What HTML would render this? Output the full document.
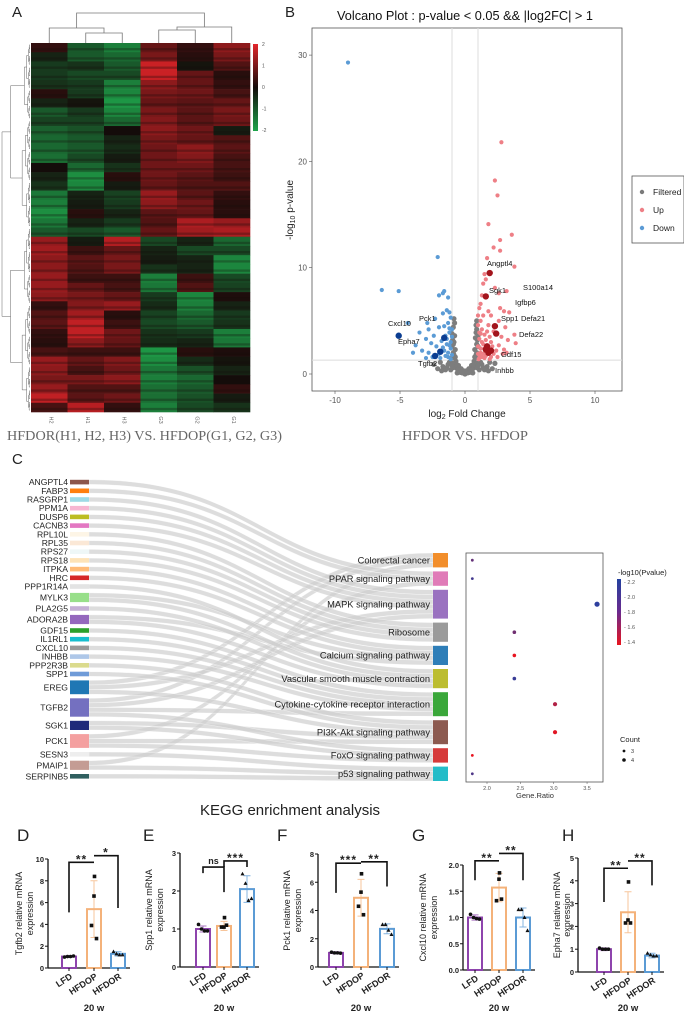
<!DOCTYPE html>
<html><head><meta charset="utf-8"><style>
html,body{margin:0;padding:0;background:#fff}
svg{display:block;font-family:"Liberation Sans",Arial,sans-serif}
</style></head><body>
<svg id="fig" xmlns="http://www.w3.org/2000/svg" width="684" height="1015" viewBox="0 0 684 1015">
<rect x="0" y="0" width="684" height="1015" fill="#fff"/>
<text x="12" y="17" font-size="15" fill="#222">A</text>
<text x="285" y="17" font-size="15" fill="#222">B</text>
<text x="12" y="464" font-size="15" fill="#222">C</text>
<text x="7" y="440" font-size="14" fill="#666" font-family="Liberation Serif,serif" textLength="275" lengthAdjust="spacingAndGlyphs">HFDOR(H1, H2, H3) VS. HFDOP(G1, G2, G3)</text>
<text x="402" y="440" font-size="14" fill="#666" font-family="Liberation Serif,serif" textLength="126" lengthAdjust="spacingAndGlyphs">HFDOR  VS. HFDOP</text>
<text x="337" y="20" font-size="13" fill="#111" textLength="256" lengthAdjust="spacingAndGlyphs">Volcano Plot : p-value &lt; 0.05 &amp;&amp; |log2FC| &gt; 1</text>
<text x="290" y="815" font-size="15" fill="#222" text-anchor="middle">KEGG enrichment analysis</text>
</svg>
<script>
// ---------- DATA ----------
const hmCols = ['H2','H1','H3','G3','G2','G1'];
const hmRows = [
[0.3,-1,-1.5,0.8,0.3,1.2],[-0.3,-1,-1.2,1,0.2,1],[-0.6,-0.5,-1,1.8,-0.1,0.6],[-0.6,-0.8,-0.8,1.8,0.8,0.2],
[-0.5,-0.6,-1.5,1.2,0.8,0.3],[0.2,-0.6,-1.6,1.0,0.9,0.5],[-0.3,-0.1,-1.8,0.8,0.7,0.8],[-1,-0.6,-1.6,1.0,0.7,1],
[-0.7,-0.7,-1.2,1.1,0.7,0.9],[-1.1,-0.9,0,1.2,0.9,-0.2],[-1.2,-1,-0.3,1,0.8,0.6],[-1.2,-1,-0.4,0.9,1.2,0.7],
[-1.3,-0.8,-0.2,0.9,1.1,0.5],[0,-1.2,-0.5,0.9,0.9,0.5],[-0.3,-1.7,0.2,0.9,0.7,0.4],[-0.5,-1.6,-0.2,0.8,0.6,0.6],
[-1.4,-0.3,-0.7,1.3,0.7,0.3],[-1.5,-0.2,-0.6,1.2,0.9,0.2],[-1.7,0.2,-0.3,0.7,0.8,0.2],[-1.4,-0.3,-0.6,0.6,1.5,1.3],
[-1.0,-0.8,-1.0,0.8,1.4,1.5],[1.3,-0.2,1.6,-0.8,-0.3,-1.2],[1.4,0.4,0.8,-0.3,-0.8,-0.8],[1.2,0.7,1.0,-0.2,-0.3,-1.6],
[1.2,0.6,1.0,-0.5,-0.3,-1.6],[1.3,0.4,0.4,-1.5,0.4,-0.8],[1.3,0.8,0.5,-1.4,0.6,-0.7],[1.2,1.0,0.8,-0.6,-1.6,0.1],
[0.3,1.1,1.3,-0.4,-1.5,-0.3],[0.6,1.4,0.2,-0.7,-1.2,-0.6],[0.7,1.7,0.4,-0.8,-1.0,-0.5],[0.3,1.7,0.9,-0.5,-0.6,-1.5],
[0.2,1.2,0.8,-0.4,-0.3,-1.4],[0.5,0.4,0.4,-1.8,0.2,0.1],[1.3,0.8,1.1,-1.7,-0.4,-0.1],[1.2,0.5,0.9,-1.4,-0.9,-0.3],
[1.0,1.0,1.2,-1.5,-1.2,0.0],[1.3,0.6,0.6,-1.3,-1.0,0.3],[1.7,0.7,0.9,-1.3,-0.9,-0.2],[0.5,1.6,0.3,-1.5,-0.8,-0.5]];

const volUp = [[2.8,21.8],[2.3,18.2],[2.5,16.8],[1.8,14.1],[3.6,13.1],[2.7,12.6],[2.2,11.9],[2.7,11.6],[1.7,10.9],[3.8,10.1],
[1.5,9.4],[1.6,8.9],[1.4,8.5],[2.3,8.1],[3.2,7.8],[2.6,7.6],[1.3,7.4],[1.2,6.6],[1.1,6.2],[2.7,6.2],[3.0,5.9],[3.4,5.8],
[1.4,5.5],[2.0,5.5],[1.2,5.0],[2.6,5.0],[1.8,4.6],[3.1,4.4],[1.3,4.2],[2.2,4.0],[3.8,3.7],[1.5,3.7],[2.8,3.5],[1.1,3.3],
[3.3,3.2],[2.0,3.0],[3.9,2.9],[1.4,2.8],[2.6,2.7],[1.2,2.4],[3.0,2.3],[1.7,2.1],[2.2,1.9],[1.1,1.8],[2.5,1.6],[1.5,1.5],
[1.9,1.4],[3.2,2.0],[1.0,4.6],[1.2,3.8],[1.0,2.6],[1.6,3.2],[2.4,2.2],[1.3,1.6],[1.05,1.4],[2.9,1.9],[1.8,5.9],[1.0,5.5],
[1.1,3.9],[1.3,3.0],[1.5,2.4],[1.7,4.0],[2.1,2.6],[1.9,3.5],[1.2,2.0],[1.0,1.9],[1.4,1.9],[2.0,1.6],[1.6,1.7],[1.1,1.5]];
const volDown = [[-9,29.3],[-2.1,11],[-6.4,7.9],[-5.1,7.8],[-1.6,7.8],[-2.0,7.4],[-1.3,7.2],[-1.7,7.6],[-4.4,4.8],[-2.3,5.2],
[-1.2,5.8],[-1.4,6.0],[-1.7,5.7],[-1.1,5.3],[-2.8,4.2],[-3.5,3.9],[-1.3,4.8],[-2.0,4.4],[-1.6,4.5],[-2.4,3.6],[-3.0,3.3],
[-1.2,3.9],[-3.8,2.7],[-2.6,2.9],[-1.8,3.1],[-2.2,2.6],[-1.4,2.8],[-3.3,2.2],[-2.8,2.0],[-1.6,2.2],[-1.1,2.4],[-2.5,1.6],
[-1.9,1.5],[-1.3,1.6],[-3.0,1.5],[-1.0,3.5],[-1.1,1.4],[-2.0,1.9],[-1.5,3.6],[-1.2,4.3],[-4.0,2.0],[-2.9,4.8],
[-1.1,3.0],[-1.3,2.0],[-1.5,1.7],[-1.0,1.8],[-1.2,2.7],[-1.7,2.5],[-1.0,4.2],[-1.4,3.3]];
const volGray = [[0,0],[-0.2,0.1],[0.2,0.1],[-0.4,0.3],[0.4,0.3],[-0.6,0.5],[0.6,0.5],[-0.8,0.9],[0.8,0.9],[-1,1.5],[1,1.5],
[-0.9,2.0],[0.9,2.0],[-1,2.6],[1,2.6],[-0.95,3.2],[0.95,3.2],[-1,3.8],[1,3.6],[-0.9,4.4],[0.9,4.2],[-0.85,5.2],[0.9,5.0],
[-0.7,1.2],[0.7,1.2],[-0.5,0.8],[0.5,0.8],[-0.3,0.5],[0.3,0.5],[-0.85,1.8],[0.85,1.8],[-0.9,2.8],[0.9,2.8],[-1.3,0.9],
[1.3,0.9],[-1.7,0.7],[1.7,0.7],[-2.1,0.5],[2.1,0.5],[-1.5,0.4],[1.5,0.4],[-1.1,0.4],[1.1,0.4],[-0.6,0.1],[0.6,0.1],
[-2.4,0.9],[2.3,1.0],[-1.9,1.1],[1.9,1.1],[-0.1,0.3],[0.1,0.3],[-0.8,3.6],[0.8,3.4],[-0.75,2.3],[0.75,2.3],[-0.65,0.9],
[0.65,0.9],[-1.2,1.1],[1.2,1.1],[-0.9,0.6],[0.9,0.6],[-0.8,4.8],[0.85,4.6],[-0.45,0.2],[0.45,0.2],
[-0.95,1.0],[0.95,1.0],[-0.75,1.6],[0.75,1.6],[-0.85,3.0],[0.85,3.9],[-0.55,0.4],[0.55,0.4],[-1.4,0.6],[1.4,0.6],
[-1.8,0.3],[1.8,0.3],[-1.0,0.8],[1.0,0.8],[-0.35,0.15],[0.35,0.15]];
const volHiUp = [[1.9,9.5],[1.6,7.3],[2.3,4.5],[2.4,3.8],[1.7,2.6],[2.0,2.2],[1.8,2.0],[1.6,2.3]];
const volHiDown = [[-5.1,3.6],[-1.6,3.4],[-1.9,2.1],[-2.3,1.7]];
const volXTicks = [-10,-5,0,5,10];
const volYTicks = [0,10,20,30];

const genes = ['ANGPTL4','FABP3','RASGRP1','PPM1A','DUSP6','CACNB3','RPL10L','RPL35','RPS27','RPS18','ITPKA','HRC','PPP1R14A','MYLK3','PLA2G5','ADORA2B','GDF15','IL1RL1','CXCL10','INHBB','PPP2R3B','SPP1','EREG','TGFB2','SGK1','PCK1','SESN3','PMAIP1','SERPINB5'];
const geneColors = ['#8c564b','#ff7f0e','#9edae5','#f7b6d2','#bcbd22','#e377c2','#fdf5e6','#fbe8d6','#eef7f7','#fde3b8','#ffbb78','#d62728','#e3e3e3','#98df8a','#c5b0d5','#9467bd','#2ca02c','#17becf','#999999','#aec7e8','#dbdb8d','#6f9bd8','#1f77b4','#7470c0','#1f2a7a','#f4a0a0','#eeeeee','#c49c94','#2f5f5f'];
const pathways = ['Colorectal cancer','PPAR signaling pathway','MAPK signaling pathway','Ribosome','Calcium signaling pathway','Vascular smooth muscle contraction','Cytokine-cytokine receptor interaction','PI3K-Akt signaling pathway','FoxO signaling pathway','p53 signaling pathway'];
const pathwayColors = ['#f28e2b','#e07bb8','#9a72c0','#9b9b9b','#2e7eb8','#bcbd30','#3aa73a','#8c5a50','#d63a3a','#24bcc8'];
const links = [
['EREG',0],['TGFB2',0],['PMAIP1',0],
['ANGPTL4',1],['FABP3',1],['PCK1',1],
['RASGRP1',2],['PPM1A',2],['DUSP6',2],['CACNB3',2],['EREG',2],['TGFB2',2],
['RPL10L',3],['RPL35',3],['RPS27',3],['RPS18',3],
['ITPKA',4],['HRC',4],['MYLK3',4],['ADORA2B',4],
['PPP1R14A',5],['MYLK3',5],['PLA2G5',5],['ADORA2B',5],
['GDF15',6],['IL1RL1',6],['CXCL10',6],['INHBB',6],['TGFB2',6],
['PPP2R3B',7],['SPP1',7],['EREG',7],['SGK1',7],['PCK1',7],
['TGFB2',8],['SGK1',8],['PCK1',8],
['SESN3',9],['PMAIP1',9],['SERPINB5',9]];
const geneRatio = [1.78,1.78,3.65,2.41,2.41,2.41,3.02,3.02,1.78,1.78];
const pathCount = [3,3,6,4,4,4,5,5,3,3];
const pathLogP = [1.95,2.1,2.2,1.9,1.35,2.15,1.6,1.38,1.35,2.05];
const grTicks = [2.0,2.5,3.0,3.5];
const cbTicks = [2.2,2.0,1.8,1.6,1.4];

const groups = ['LFD','HFDOP','HFDOR'];
const tgfb2Mean=[1.05,5.4,1.3], tgfb2Sd=[0.08,2.6,0.2], tgfb2Pts=[[1.0,1.05,1.05,1.1],[8.4,6.6,3.9,2.7],[1.5,1.3,1.2,1.2]];
const spp1Mean=[1.0,1.08,2.05], spp1Sd=[0.08,0.12,0.35], spp1Pts=[[1.12,1.0,0.95,0.95],[1.3,1.05,1.05,1.1],[2.45,2.2,1.75,1.8]];
const pck1Mean=[1.0,4.9,2.7], pck1Sd=[0.08,1.3,0.35], pck1Pts=[[1.05,1.0,1.0,0.98],[6.6,5.3,4.3,3.7],[3.0,3.0,2.6,2.3]];
const cxcl10Mean=[1.0,1.57,1.0], cxcl10Sd=[0.05,0.27,0.18], cxcl10Pts=[[1.06,1.0,0.98,0.97],[1.85,1.73,1.32,1.35],[1.15,1.15,1.0,0.75]];
const epha7Mean=[1.0,2.62,0.72], epha7Sd=[0.06,0.9,0.1], epha7Pts=[[1.05,1.0,1.0,1.0],[3.95,2.28,2.15,2.15],[0.82,0.75,0.7,0.7]];
const tgfb2Ticks=['0','2','4','6','8','10'], spp1Ticks=['0','1','2','3'], pck1Ticks=['0','2','4','6','8'], cxcl10Ticks=['0.0','0.5','1.0','1.5','2.0'], epha7Ticks=['0','1','2','3','4','5'];
const tgfb2Sig=[[0,1,9.7,5.1,9.7,'**'],[1,2,10.3,10.3,5.5,'*']];
const spp1Sig=[[0,1,2.63,2.47,1.97,'ns'],[1,2,2.79,2.63,2.63,'***']];
const pck1Sig=[[0,1,7.35,5.25,7.35,'***'],[1,2,7.45,7.45,5.7,'**']];
const cxcl10Sig=[[0,1,2.08,1.71,2.08,'**'],[1,2,2.22,2.22,1.71,'**']];
const epha7Sig=[[0,1,4.55,3.07,4.55,'**'],[1,2,4.87,4.87,3.8,'**']];

// ---------- HELPERS ----------
const NS='http://www.w3.org/2000/svg';
const svg=document.getElementById('fig');
function mk(tag,attrs,parent){const e=document.createElementNS(NS,tag);for(const k in attrs)e.setAttribute(k,attrs[k]);(parent||svg).appendChild(e);return e;}
function lerp(a,b,t){return Math.round(a+(b-a)*t);}
function hc(v){const t=Math.max(-1,Math.min(1,v/2));const k=[20,12,10];
 if(t<0){const g=[30,165,75];return `rgb(${lerp(k[0],g[0],-t)},${lerp(k[1],g[1],-t)},${lerp(k[2],g[2],-t)})`;}
 const r=[222,35,40];return `rgb(${lerp(k[0],r[0],t)},${lerp(k[1],r[1],t)},${lerp(k[2],r[2],t)})`;}

// ---------- HEATMAP ----------
const hmG=mk('g',{});


const hmX0=31,hmX1=250,hmY0=43,hmY1=412;
const cw=(hmX1-hmX0)/hmCols.length, rh=(hmY1-hmY0)/hmRows.length;
hmRows.forEach((row,i)=>row.forEach((v,j)=>{
 const c=mk('rect',{x:(hmX0+j*cw).toFixed(2),y:(hmY0+i*rh).toFixed(2),width:(cw+0.3).toFixed(2),height:(rh+0.3).toFixed(2),fill:hc(v)},hmG);
 
 
 const s=mk('rect',{x:(hmX0+j*cw).toFixed(2),y:(hmY0+i*rh+rh*0.55).toFixed(2),width:cw.toFixed(2),height:(rh*0.25).toFixed(2),fill:hc(v*0.7)},hmG);
 
 
}));
hmCols.forEach((n,j)=>{
 const t=mk('text',{x:0,y:0,'font-size':5.5,fill:'#666','text-anchor':'middle',transform:`translate(${hmX0+(j+0.5)*cw},${hmY1+8}) rotate(90)`},hmG);
 t.textContent=n;
 
 
});
const cbDefs=mk('defs',{});
const lg=mk('linearGradient',{id:'hmgrad',x1:0,y1:0,x2:0,y2:1},cbDefs);
[['0%','#e3262b'],['50%','#140c0a'],['100%','#1ea54b']].forEach(s=>mk('stop',{offset:s[0],'stop-color':s[1]},lg));
const cb=mk('rect',{x:253,y:44,width:5,height:87,fill:'url(#hmgrad)'});


['2','1','0','-1','-2'].forEach((l,i)=>{const t=mk('text',{x:262,y:46+i*21.5,'font-size':5,fill:'#555'});t.textContent=l;
 
 });
const cx=j=>hmX0+(j+0.5)*cw;
const td=[[cx(1),33,cx(2),33,43,43],[cx(0),28,(cx(1)+cx(2))/2,28,43,33],[cx(3),30,cx(4),30,43,43],[(cx(3)+cx(4))/2,27,cx(5),27,30,43],[(cx(0)+(cx(1)+cx(2))/2)/2,13,((cx(3)+cx(4))/2+cx(5))/2,13,28,27]];
td.forEach(d=>{const p=mk('path',{d:`M${d[0]},${d[4]}V${d[1]}H${d[2]}V${d[5]}`,fill:'none',stroke:'#777','stroke-width':0.8});
 
 });
const nLeaf=96, leafH=(hmY1-hmY0)/nLeaf;
function dend(a,b,depth){
 if(b-a<=1){return [hmY0+(a+0.5)*leafH,30];}
 const f=[0.5,0.42,0.58,0.47,0.55][depth%5];
 const m=a+Math.max(1,Math.round((b-a)*f));
 const L=dend(a,m,depth+1),R=dend(m,b,depth+1);
 const x=Math.max(2,30-(b-a)*0.28-(depth<2?6:0));
 const p=mk('path',{d:`M${L[1]},${L[0]}H${x}V${R[0]}H${R[1]}`,fill:'none',stroke:'#555','stroke-width':0.45});
 
 
 return [(L[0]+R[0])/2,x];}
dend(0,nLeaf,0);

// ---------- VOLCANO ----------
const vx=d=>465+d*13, vy=d=>374-d*10.63;
const vp=mk('rect',{x:312,y:28,width:310,height:363,fill:'#fff',stroke:'#555','stroke-width':0.8});


[[vx(-1),28,vx(-1),391],[vx(1),28,vx(1),391],[312,vy(1.3),622,vy(1.3)]].forEach(l=>{
 const e=mk('line',{x1:l[0],y1:l[1],x2:l[2],y2:l[3],stroke:'#dcdcdc','stroke-width':1});
 
 });
volXTicks.forEach(t=>{const e=mk('line',{x1:vx(t),y1:391,x2:vx(t),y2:394,stroke:'#555','stroke-width':0.6});
 
 
 const s=mk('text',{x:vx(t),y:403,'font-size':8,fill:'#555','text-anchor':'middle'});s.textContent=t;
 
 });
volYTicks.forEach(t=>{const e=mk('line',{x1:309,y1:vy(t),x2:312,y2:vy(t),stroke:'#555','stroke-width':0.6});
 
 
 const s=mk('text',{x:307,y:vy(t)+3,'font-size':8,fill:'#555','text-anchor':'end'});s.textContent=t;
 
 });
const xt=mk('text',{x:467,y:417,'font-size':10,fill:'#222','text-anchor':'middle'});
xt.innerHTML='log<tspan font-size="7" dy="2">2</tspan><tspan dy="-2"> Fold Change</tspan>';


const yt=mk('text',{x:0,y:0,'font-size':10,fill:'#222','text-anchor':'middle',transform:'translate(293,210) rotate(-90)'});
yt.innerHTML='-log<tspan font-size="7" dy="2">10</tspan><tspan dy="-2"> p-value</tspan>';


volGray.forEach(p=>{const c=mk('circle',{cx:vx(p[0]),cy:vy(p[1]),r:2.6,fill:'#7d7d7d'});
 
 });
volUp.forEach(p=>{const c=mk('circle',{cx:vx(p[0]),cy:vy(p[1]),r:2.1,fill:'#ee7f86'});
 
 });
volDown.forEach(p=>{const c=mk('circle',{cx:vx(p[0]),cy:vy(p[1]),r:2.1,fill:'#5b9bd5'});
 
 });
volHiUp.forEach(p=>{const c=mk('circle',{cx:vx(p[0]),cy:vy(p[1]),r:3.2,fill:'#a3141c'});
 
 });
volHiDown.forEach(p=>{const c=mk('circle',{cx:vx(p[0]),cy:vy(p[1]),r:3.2,fill:'#0b3d91'});
 
 });
[['Angptl4',487,266],['Sgk1',489,293],['S100a14',523,290],['Igfbp6',515,305],['Spp1',501,321],['Defa21',521,321],['Defa22',519,337],['Gdf15',501,357],['Inhbb',495,373],['Cxcl10',388,326],['Pck1',419,321],['Epha7',398,344],['Tgfb2',418,366]].forEach(l=>{
 const t=mk('text',{x:l[1],y:l[2],'font-size':7.5,fill:'#111'});t.textContent=l[0];
 
 });
const lb=mk('rect',{x:632,y:176,width:52,height:67,fill:'#fff',stroke:'#555','stroke-width':0.8});


[['Filtered','#7a7a7a',192],['Up','#ee7f86',210],['Down','#5b9bd5',228]].forEach(l=>{
 const c=mk('circle',{cx:642,cy:l[2],r:2.2,fill:l[1]});
 
 
 const t=mk('text',{x:653,y:l[2]+3,'font-size':8.5,fill:'#222'});t.textContent=l[0];
 
 });

// ---------- SANKEY ----------
const gUnit=4.6,gGap=4.1,pUnit=4.8,pGap=4.0;
const gCount=genes.map(g=>links.filter(l=>l[0]===g).length);
const pCount=pathways.map((p,i)=>links.filter(l=>l[1]===i).length);
let gy=[],y=479.8;gCount.forEach((c,i)=>{gy.push(y);y+=c*gUnit+gGap;});
let py=[];y=553;pCount.forEach((c,i)=>{py.push(y);y+=c*pUnit+pGap;});
const linkG=mk('g',{});


const gStart={},pStart={};
genes.forEach((g,i)=>{let o=gy[i];links.map((l,k)=>[l,k]).filter(x=>x[0][0]===g).sort((a,b)=>a[0][1]-b[0][1]).forEach(x=>{gStart[x[1]]=o;o+=gUnit;});});
pathways.forEach((p,i)=>{let o=py[i];links.map((l,k)=>[l,k]).filter(x=>x[0][1]===i).sort((a,b)=>genes.indexOf(a[0][0])-genes.indexOf(b[0][0])).forEach(x=>{pStart[x[1]]=o;o+=pUnit;});});
links.forEach((l,k)=>{
 const x0=89,x1=433,y0=gStart[k],y1=pStart[k],mx=(x0+x1)/2;
 const d=`M${x0},${y0}C${mx},${y0} ${mx},${y1} ${x1},${y1}L${x1},${y1+pUnit}C${mx},${y1+pUnit} ${mx},${y0+gUnit} ${x0},${y0+gUnit}Z`;
 const p=mk('path',{d,fill:'#cfcfcf','fill-opacity':0.7,stroke:'#fff','stroke-width':0.3},linkG);
 
 });
genes.forEach((g,i)=>{
 const h=gCount[i]*gUnit;
 const r=mk('rect',{x:70,y:gy[i],width:19,height:h,fill:geneColors[i]});
 
 
 const t=mk('text',{x:68,y:gy[i]+h/2+3,'font-size':8.6,fill:'#222','text-anchor':'end'});t.textContent=g;
 
 });
pathways.forEach((p,i)=>{
 const h=pCount[i]*pUnit;
 const r=mk('rect',{x:433,y:py[i],width:15,height:h,fill:pathwayColors[i]});
 
 
 const t=mk('text',{x:430,y:py[i]+h/2+3.2,'font-size':9.3,fill:'#222','text-anchor':'end'});t.textContent=p;
 
 });

// ---------- DOT PLOT ----------
const gx=v=>487+(v-2)*66.7;
const db=mk('rect',{x:466,y:553,width:137,height:229,fill:'#fff',stroke:'#555','stroke-width':0.8});


function pcol(v){const t=Math.max(0,Math.min(1,(v-1.35)/(2.25-1.35)));return `rgb(${lerp(232,35,t)},${lerp(20,65,t)},${lerp(32,165,t)})`;}
const cr={3:1.4,4:1.8,5:2.1,6:2.6};
pathways.forEach((p,i)=>{
 const c=mk('circle',{cx:gx(geneRatio[i]),cy:py[i]+pCount[i]*pUnit/2,r:cr[pathCount[i]]||1.5,fill:pcol(pathLogP[i])});
 
 });
grTicks.forEach(t=>{const e=mk('line',{x1:gx(t),y1:782,x2:gx(t),y2:784,stroke:'#555','stroke-width':0.5});
 
 
 const s=mk('text',{x:gx(t),y:790,'font-size':5.5,fill:'#555','text-anchor':'middle'});s.textContent=t.toFixed(1);
 
 });
const grT=mk('text',{x:535,y:798,'font-size':7.5,fill:'#333','text-anchor':'middle'});grT.textContent='Gene.Ratio';


const lg2=mk('linearGradient',{id:'pgrad',x1:0,y1:0,x2:0,y2:1},cbDefs);
[['0%','#23419f'],['50%','#6a2a8e'],['100%','#e8141e']].forEach(s=>mk('stop',{offset:s[0],'stop-color':s[1]},lg2));
const pcb=mk('rect',{x:617,y:579,width:4,height:66,fill:'url(#pgrad)'});


const pct=mk('text',{x:618,y:575,'font-size':7.5,fill:'#222'});pct.textContent='-log10(Pvalue)';


cbTicks.forEach(v=>{const yy=582+(2.2-v)*75;
 const t=mk('text',{x:624,y:yy+2,'font-size':5.5,fill:'#555'});t.textContent='- '+v.toFixed(1);
 
 });
const ctt=mk('text',{x:620,y:742,'font-size':7.5,fill:'#222'});ctt.textContent='Count';


[[3,751],[4,760]].forEach(c=>{const e=mk('circle',{cx:624,cy:c[1],r:cr[c[0]],fill:'#111'});
 
 
 const t=mk('text',{x:631,y:c[1]+2,'font-size':5.5,fill:'#333'});t.textContent=c[0];
 
 });

// ---------- BAR PANELS ----------
const barColors=['#8e44ad','#f4b27a','#5b9bd5'];
const panels=[
 {L:'D',lx:17,ax:48,tx:[22,33],bx:[69,94,118],base:968,top:859,max:10,name:'Tgfb2',mean:tgfb2Mean,sd:tgfb2Sd,pts:tgfb2Pts,ticks:tgfb2Ticks,sig:tgfb2Sig},
 {L:'E',lx:143,ax:180,tx:[152,163],bx:[203,224,247],base:967,top:853,max:3,name:'Spp1',mean:spp1Mean,sd:spp1Sd,pts:spp1Pts,ticks:spp1Ticks,sig:spp1Sig},
 {L:'F',lx:277,ax:318,tx:[290,301],bx:[336,361,387],base:967,top:854,max:8,name:'Pck1',mean:pck1Mean,sd:pck1Sd,pts:pck1Pts,ticks:pck1Ticks,sig:pck1Sig},
 {L:'G',lx:412,ax:463,tx:[426,437],bx:[475,499,523],base:970,top:865,max:2,name:'Cxcl10',mean:cxcl10Mean,sd:cxcl10Sd,pts:cxcl10Pts,ticks:cxcl10Ticks,sig:cxcl10Sig},
 {L:'H',lx:562,ax:578,tx:[560,570],bx:[604,628,652],base:972,top:858,max:5,name:'Epha7',mean:epha7Mean,sd:epha7Sd,pts:epha7Pts,ticks:epha7Ticks,sig:epha7Sig}];
panels.forEach(P=>{
 const Y=v=>P.base-(v/P.max)*(P.base-P.top);
 const g=mk('g',{});
 
 
 const lab=mk('text',{x:P.lx,y:841,'font-size':17,fill:'#222'},g);lab.textContent=P.L;
 
 
 const ax=mk('line',{x1:P.ax,y1:P.top,x2:P.ax,y2:P.base,stroke:'#111','stroke-width':1.3},g);
 
 
 const xa=mk('line',{x1:P.ax,y1:P.base,x2:P.bx[2]+12,y2:P.base,stroke:'#111','stroke-width':1.3},g);
 
 
 P.ticks.forEach((t,i)=>{const v=i*P.max/(P.ticks.length-1);
  const e=mk('line',{x1:P.ax-3,y1:Y(v),x2:P.ax,y2:Y(v),stroke:'#111','stroke-width':1},g);
  
  
  const s=mk('text',{x:P.ax-4,y:Y(v)+3,'font-size':7.5,'font-weight':'bold',fill:'#222','text-anchor':'end'},g);s.textContent=t;
  
  });
 const yc=(P.base+P.top)/2;
 const t1=mk('text',{x:0,y:0,'font-size':9,fill:'#222','text-anchor':'middle',transform:`translate(${P.tx[0]},${yc}) rotate(-90)`},g);t1.textContent=P.name+' relative mRNA';
 
 
 const t2=mk('text',{x:0,y:0,'font-size':9,fill:'#222','text-anchor':'middle',transform:`translate(${P.tx[1]},${yc}) rotate(-90)`},g);t2.textContent='expression';
 
 
 groups.forEach((gr,i)=>{
  const x=P.bx[i];
  const b=mk('rect',{x:x-7,y:Y(P.mean[i]),width:14,height:P.base-Y(P.mean[i]),fill:'#fff',stroke:barColors[i],'stroke-width':2},g);
  
  
  const e=mk('path',{d:`M${x},${Y(P.mean[i]-P.sd[i])}V${Y(P.mean[i]+P.sd[i])}M${x-3.5},${Y(P.mean[i]+P.sd[i])}H${x+3.5}M${x-3.5},${Y(P.mean[i]-P.sd[i])}H${x+3.5}`,fill:'none',stroke:barColors[i],'stroke-width':1,opacity:0.75},g);
  
  
  P.pts[i].forEach((v,k)=>{const px=x+[-4.5,-1.5,1.5,4.5][k]*([0,2].includes(i)?1:0)+(i===1?[0.5,0,-2.5,2.5][k]:0);
   let m;
   if(i===2){m=mk('path',{d:`M${px},${Y(v)-2.2}L${px+2},${Y(v)+1.5}L${px-2},${Y(v)+1.5}Z`,fill:'#111'},g);}
   else if(i===1){m=mk('rect',{x:px-1.8,y:Y(v)-1.8,width:3.6,height:3.6,fill:'#111'},g);}
   else{m=mk('circle',{cx:px,cy:Y(v),r:1.8,fill:'#111'},g);}
   
   });
  const tk=mk('line',{x1:x,y1:P.base,x2:x,y2:P.base+3,stroke:'#111','stroke-width':1},g);
  
  
  const xl=mk('text',{x:0,y:0,'font-size':9,'font-weight':'bold',fill:'#222','text-anchor':'end',transform:`translate(${x+4},${P.base+10}) rotate(-33)`},g);xl.textContent=gr;
  
  });
 const w=mk('text',{x:P.bx[1],y:1011,'font-size':9.5,'font-weight':'bold',fill:'#222','text-anchor':'middle'},g);w.textContent='20 w';
 
 
 P.sig.forEach(s=>{
  const xa=P.bx[s[0]],xb=P.bx[s[1]];
  const br=mk('path',{d:`M${xa},${Y(s[3])}V${Y(s[2])}H${xb}V${Y(s[4])}`,fill:'none',stroke:'#111','stroke-width':1.6},g);
  
  
  const st=mk('text',{x:(xa+xb)/2,y:Y(s[2])-(s[5]==='ns'?3:-1),'font-size':s[5]==='ns'?9:12,'font-weight':'bold',fill:'#222','text-anchor':'middle','letter-spacing':s[5]==='ns'?0:1},g);st.textContent=s[5];
  
  });
});
</script>
</body></html>
